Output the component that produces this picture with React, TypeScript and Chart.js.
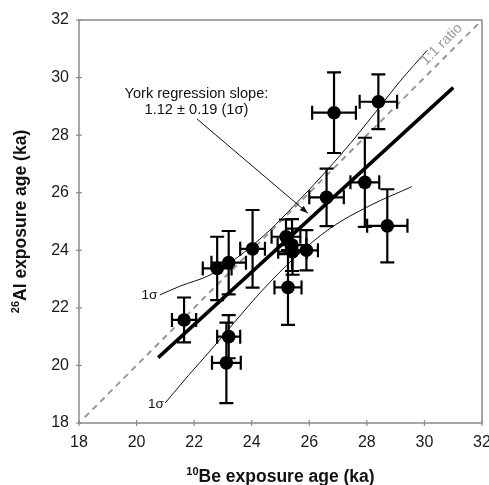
import React, { useEffect, useRef } from "react";
import { Chart, registerables } from "chart.js";
Chart.register(...registerables);

// 10Be exposure ages (ka) and 1-sigma errors
const beAge = [21.65, 22.8, 23.2, 24.03, 23.2, 23.12, 25.19, 25.4, 25.42, 25.9, 25.26, 26.6, 26.86, 28.4, 27.93, 28.71];
const beErr = [0.42, 0.5, 0.6, 0.43, 0.4, 0.5, 0.5, 0.5, 0.5, 0.4, 0.47, 0.6, 0.76, 0.65, 0.5, 0.7];
// 26Al exposure ages (ka) and 1-sigma errors
const alAge = [21.58, 23.37, 23.57, 24.05, 21.0, 20.09, 24.47, 24.18, 23.95, 24.0, 22.71, 25.84, 28.78, 29.16, 26.36, 24.85];
const alErr = [0.78, 1.1, 1.1, 1.35, 0.75, 1.4, 0.6, 0.9, 0.8, 0.7, 1.3, 1.0, 1.4, 0.95, 1.55, 1.27];

// York regression line
const regX = [20.75, 31.0];
const regY = [20.27, 29.65];
// 1-sigma envelope curves
const upperX = [20.81, 21.5, 22.55, 23.5, 24.63, 25.43, 26.5, 27.5, 28.5, 29.15, 30.1];
const upperY = [22.45, 22.75, 23.14, 23.75, 24.7, 25.51, 26.65, 27.8, 29.05, 29.87, 30.95];
const lowerX = [20.99, 21.8, 22.55, 23.4, 24.36, 25.5, 26.72, 28.1, 29.56];
const lowerY = [18.69, 19.65, 20.5, 21.5, 22.6, 23.75, 24.76, 25.55, 26.21];
// 1:1 ratio line
const ratioX = [18.2, 32];
const ratioY = [18.2, 32];

const axisMin = 18;
const axisMax = 32;
const tickStep = 2;

const xTitleSup = "10";
const xTitleMain = "Be exposure age (ka)";
const yTitleSup = "26";
const yTitleMain = "Al exposure age (ka)";
const noteLine1 = "York regression slope:";
const noteLine2 = "1.12 \u00b1 0.19 (1\u03c3)";
const ratioLabel = "1:1 ratio";
const sigmaLabel = "1\u03c3";

// annotation anchor positions in data units
const noteAnchor = { x: 22.08, y1: 29.43, y2: 28.87 };
const arrowFrom = { x: 22.1, y: 28.56 };
const arrowTo = { x: 25.95, y: 25.29 };
const ratioLabelPos = { x: 30.6, y: 31.15 };
const upperSigmaLabelPos = { x: 20.72, y: 22.42 };
const lowerSigmaLabelPos = { x: 20.95, y: 18.66 };

const FONT = "'Liberation Sans', Arial, sans-serif";

const zip = (xs: number[], ys: number[]) => xs.map((x, i) => ({ x, y: ys[i] }));

const drawPlugin = {
  id: "customDraw",
  beforeDatasetsDraw(chart: any) {
    const { ctx, chartArea: a, scales } = chart;
    ctx.save();
    ctx.strokeStyle = "#8a8a8a";
    ctx.lineWidth = 1.5;
    ctx.strokeRect(a.left, a.top, a.right - a.left, a.bottom - a.top);
    ctx.lineWidth = 1.2;
    for (let v = axisMin; v <= axisMax; v += tickStep) {
      const px = scales.x.getPixelForValue(v);
      ctx.beginPath();
      ctx.moveTo(px, a.bottom - 3);
      ctx.lineTo(px, a.bottom + 3);
      ctx.stroke();
      const py = scales.y.getPixelForValue(v);
      ctx.beginPath();
      ctx.moveTo(a.left - 3, py);
      ctx.lineTo(a.left + 3, py);
      ctx.stroke();
    }
    ctx.restore();
  },
  afterDatasetsDraw(chart: any) {
    const { ctx, scales } = chart;
    const xs = scales.x, ys = scales.y;
    ctx.save();
    ctx.strokeStyle = "#000";
    ctx.lineWidth = 2.2;
    const cap = 7;
    for (let i = 0; i < beAge.length; i++) {
      const cx = xs.getPixelForValue(beAge[i]);
      const cy = ys.getPixelForValue(alAge[i]);
      const x0 = xs.getPixelForValue(beAge[i] - beErr[i]);
      const x1 = xs.getPixelForValue(beAge[i] + beErr[i]);
      const y0 = ys.getPixelForValue(alAge[i] - alErr[i]);
      const y1 = ys.getPixelForValue(alAge[i] + alErr[i]);
      ctx.beginPath();
      ctx.moveTo(x0, cy); ctx.lineTo(x1, cy);
      ctx.moveTo(x0, cy - cap); ctx.lineTo(x0, cy + cap);
      ctx.moveTo(x1, cy - cap); ctx.lineTo(x1, cy + cap);
      ctx.moveTo(cx, y0); ctx.lineTo(cx, y1);
      ctx.moveTo(cx - cap, y0); ctx.lineTo(cx + cap, y0);
      ctx.moveTo(cx - cap, y1); ctx.lineTo(cx + cap, y1);
      ctx.stroke();
    }
    ctx.restore();
  },
  afterDraw(chart: any) {
    const { ctx, chartArea: a, scales } = chart;
    const xs = scales.x, ys = scales.y;
    ctx.save();
    // annotation text
    ctx.fillStyle = "#111";
    ctx.font = `14.6px ${FONT}`;
    ctx.textAlign = "center";
    ctx.textBaseline = "middle";
    const nx = xs.getPixelForValue(noteAnchor.x);
    ctx.fillText(noteLine1, nx, ys.getPixelForValue(noteAnchor.y1));
    ctx.fillText(noteLine2, nx, ys.getPixelForValue(noteAnchor.y2));
    // arrow
    const ax0 = xs.getPixelForValue(arrowFrom.x), ay0 = ys.getPixelForValue(arrowFrom.y);
    const ax1 = xs.getPixelForValue(arrowTo.x), ay1 = ys.getPixelForValue(arrowTo.y);
    ctx.strokeStyle = "#111";
    ctx.lineWidth = 1;
    ctx.beginPath();
    ctx.moveTo(ax0, ay0);
    ctx.lineTo(ax1, ay1);
    ctx.stroke();
    const ang = Math.atan2(ay1 - ay0, ax1 - ax0);
    const hl = 8, hw = 3;
    ctx.beginPath();
    ctx.moveTo(ax1, ay1);
    ctx.lineTo(ax1 - hl * Math.cos(ang) + hw * Math.sin(ang), ay1 - hl * Math.sin(ang) - hw * Math.cos(ang));
    ctx.lineTo(ax1 - hl * Math.cos(ang) - hw * Math.sin(ang), ay1 - hl * Math.sin(ang) + hw * Math.cos(ang));
    ctx.closePath();
    ctx.fillStyle = "#111";
    ctx.fill();
    // 1:1 ratio label
    ctx.save();
    ctx.translate(xs.getPixelForValue(ratioLabelPos.x), ys.getPixelForValue(ratioLabelPos.y));
    ctx.rotate(-Math.PI / 4);
    ctx.fillStyle = "#9a9a9a";
    ctx.font = `14.5px ${FONT}`;
    ctx.textAlign = "center";
    ctx.textBaseline = "middle";
    ctx.fillText(ratioLabel, 0, 0);
    ctx.restore();
    // sigma labels
    ctx.fillStyle = "#111";
    ctx.font = `13.5px ${FONT}`;
    ctx.textAlign = "right";
    ctx.textBaseline = "middle";
    ctx.fillText(sigmaLabel, xs.getPixelForValue(upperSigmaLabelPos.x), ys.getPixelForValue(upperSigmaLabelPos.y));
    ctx.fillText(sigmaLabel, xs.getPixelForValue(lowerSigmaLabelPos.x), ys.getPixelForValue(lowerSigmaLabelPos.y));
    // axis titles
    const supFont = `bold 11px ${FONT}`;
    const mainFont = `bold 17.5px ${FONT}`;
    ctx.textAlign = "left";
    ctx.textBaseline = "alphabetic";
    ctx.font = supFont;
    const supW = ctx.measureText(xTitleSup).width;
    ctx.font = mainFont;
    const mainW = ctx.measureText(xTitleMain).width;
    const cx = (a.left + a.right) / 2;
    const startX = cx - (supW + mainW) / 2;
    const baseY = 482;
    ctx.font = supFont;
    ctx.fillText(xTitleSup, startX, baseY - 7);
    ctx.font = mainFont;
    ctx.fillText(xTitleMain, startX + supW, baseY);

    ctx.save();
    ctx.font = supFont;
    const supW2 = ctx.measureText(yTitleSup).width;
    ctx.font = mainFont;
    const mainW2 = ctx.measureText(yTitleMain).width;
    ctx.translate(26, (a.top + a.bottom) / 2);
    ctx.rotate(-Math.PI / 2);
    const sx = -(supW2 + mainW2) / 2;
    ctx.font = supFont;
    ctx.fillText(yTitleSup, sx, -7);
    ctx.font = mainFont;
    ctx.fillText(yTitleMain, sx + supW2, 0);
    ctx.restore();

    ctx.restore();
  },
};

export default function App() {
  const ref = useRef<HTMLCanvasElement>(null);
  useEffect(() => {
    const chart = new Chart(ref.current!, {
      type: "scatter",
      data: {
        datasets: [
          {
            data: zip(beAge, alAge),
            pointRadius: 6.8,
            pointBackgroundColor: "#000",
            pointBorderWidth: 0,
            showLine: false,
          },
          {
            data: zip(regX, regY),
            showLine: true,
            borderColor: "#000",
            borderWidth: 3.5,
            pointRadius: 0,
          },
          {
            data: zip(upperX, upperY),
            showLine: true,
            borderColor: "#111",
            borderWidth: 1,
            pointRadius: 0,
            cubicInterpolationMode: "monotone",
          },
          {
            data: zip(lowerX, lowerY),
            showLine: true,
            borderColor: "#111",
            borderWidth: 1,
            pointRadius: 0,
            cubicInterpolationMode: "monotone",
          },
          {
            data: zip(ratioX, ratioY),
            showLine: true,
            borderColor: "#999",
            borderWidth: 2,
            borderDash: [6, 5],
            pointRadius: 0,
          },
        ] as any,
      },
      options: {
        animation: false,
        responsive: false,
        devicePixelRatio: 1,
        layout: { padding: { left: 0, top: 20, right: 7, bottom: 0 } },
        plugins: { legend: { display: false }, tooltip: { enabled: false } },
        scales: {
          x: {
            type: "linear",
            min: axisMin,
            max: axisMax,
            grid: { display: false, drawTicks: false },
            border: { display: false },
            ticks: { stepSize: tickStep, padding: 10, color: "#1a1a1a", font: { family: FONT, size: 16 } },
            afterFit: (s: any) => { s.height = 62; s.paddingLeft = 0; s.paddingRight = 0; },
          },
          y: {
            type: "linear",
            min: axisMin,
            max: axisMax,
            grid: { display: false, drawTicks: false },
            border: { display: false },
            ticks: { stepSize: tickStep, padding: 10, color: "#1a1a1a", font: { family: FONT, size: 16 } },
            afterFit: (s: any) => { s.width = 79; s.paddingTop = 0; s.paddingBottom = 0; },
          },
        },
      } as any,
      plugins: [drawPlugin],
    });
    return () => chart.destroy();
  }, []);
  return (
    <div style={{ position: "fixed", left: 0, top: 0, width: 489, height: 485, background: "#fff" }}>
      <canvas ref={ref} width={489} height={485} style={{ display: "block" }} />
    </div>
  );
}
